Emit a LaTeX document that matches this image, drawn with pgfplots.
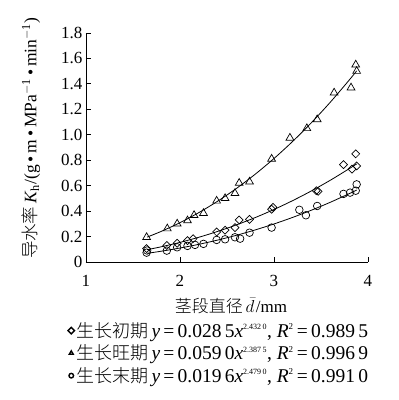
\documentclass[border=0pt]{standalone}
\usepackage{fontspec}
\setmainfont{Liberation Serif}
\newfontfamily\cjk{Noto Sans CJK SC Light}
\usepackage{pgfplots}
\pgfplotsset{compat=1.18}
\newcommand{\lt}{\fontsize{19.5}{20}\selectfont}
\begin{document}
\begin{tikzpicture}
\begin{axis}[
  scale only axis, width=282pt, height=229pt,
  xmin=1, xmax=4, ymin=0, ymax=1.8,
  axis x line*=bottom, axis y line*=left,
  axis line style={line width=0.8pt, -},
  xtick={1,2,3,4}, ytick={0,0.2,0.4,0.6,0.8,1.0,1.2,1.4,1.6,1.8},
  yticklabels={0,0.2,0.4,0.6,0.8,1.0,1.2,1.4,1.6,1.8},
  tick align=inside, major tick length=5pt, tick style={line width=0.8pt,black},
  /pgf/number format/assume math mode=true,
  tick label style={font=\fontsize{17}{19}\selectfont},
  xticklabel style={yshift=-10pt},
  clip=false,
  xlabel={{\cjk 茎段直径}\,$\bar{d}$\kern1.5pt/mm},
  xlabel style={font=\fontsize{17}{19}\selectfont, at={(axis description cs:0.514,-0.152)}, anchor=north, inner sep=1pt},
  ylabel={{\cjk 导水率}\,\textit{K}\textsubscript{h}/(g\,•\,m\,•\,MPa\textsuperscript{$-$1}\,•\,min\textsuperscript{$-$1})},
  ylabel style={font=\fontsize{17.5}{19}\selectfont, at={(axis description cs:-0.195,0.54)}, anchor=center},
  legend style={at={(axis description cs:-0.068,-0.25)}, anchor=north west, draw=none, fill=none,
    font=\fontsize{18}{20}\selectfont, row sep=2pt, legend cell align=left, inner sep=1pt,
    /tikz/every even column/.append style={column sep=2pt}},
  legend cell align=left,
  legend image code/.code={\draw[line width=1.4pt, mark size=2.3pt] plot coordinates {(0.1cm,0cm)};},
]
\path (rel axis cs:-0.305,1.144) rectangle (rel axis cs:1.110,-0.603);
% diamond data
\addplot[only marks, mark=square, line width=0.7pt, mark options={rotate=45}, mark size=2.8pt] coordinates {
(1.645,0.105)(1.86,0.13)(1.97,0.147)(2.08,0.168)(2.14,0.183)(2.39,0.236)(2.48,0.25)
(2.585,0.27)(2.63,0.33)(2.74,0.335)(2.975,0.414)(2.99,0.43)(3.45,0.56)(3.47,0.555)
(3.74,0.765)(3.83,0.73)(3.88,0.755)(3.87,0.85)};
\addlegendentry{{\cjk 生长初期}\,{\lt\textit{y}\,=\,0.028\,5\textit{x}\textsuperscript{\fontsize{8}{9}\selectfont 2.432\,0}, \textit{R}\textsuperscript{\fontsize{9}{9}\selectfont 2}\,=\,0.989\,5}}
% triangle data
\addplot[only marks, mark=triangle, line width=0.7pt, mark size=4.5pt] coordinates {
(1.645,0.194)(1.865,0.262)(1.97,0.30)(2.08,0.325)(2.15,0.367)(2.25,0.383)(2.39,0.48)
(2.48,0.50)(2.585,0.54)(2.63,0.62)(2.74,0.63)(2.975,0.81)(3.17,0.975)(3.35,1.05)
(3.46,1.12)(3.64,1.33)(3.82,1.37)(3.87,1.55)(3.88,1.50)};
\addlegendentry{{\cjk 生长旺期}\,{\lt\textit{y}\,=\,0.059\,0\textit{x}\textsuperscript{\fontsize{8}{9}\selectfont 2.387\,5}, \textit{R}\textsuperscript{\fontsize{9}{9}\selectfont 2}\,=\,0.996\,9}}
% circle data
\addplot[only marks, mark=o, line width=0.7pt, mark size=3.8pt] coordinates {
(1.645,0.073)(1.65,0.09)(1.86,0.089)(1.97,0.115)(2.08,0.126)(2.16,0.134)(2.25,0.142)
(2.39,0.173)(2.48,0.178)(2.585,0.194)(2.64,0.183)(2.74,0.23)(2.975,0.27)(3.27,0.41)
(3.34,0.367)(3.46,0.44)(3.74,0.535)(3.81,0.545)(3.88,0.61)(3.87,0.56)};
\addlegendentry{{\cjk 生长末期}\,{\lt\textit{y}\,=\,0.019\,6\textit{x}\textsuperscript{\fontsize{8}{9}\selectfont 2.479\,0}, \textit{R}\textsuperscript{\fontsize{9}{9}\selectfont 2}\,=\,0.991\,0}}
% fitted curves
\addplot[forget plot, smooth, line width=0.8pt] coordinates {
(1.65,0.1951)(1.8,0.2401)(2.0,0.3087)(2.2,0.3876)(2.4,0.4771)(2.6,0.5776)(2.8,0.6894)
(3.0,0.8129)(3.2,0.9483)(3.4,1.0960)(3.6,1.2561)(3.8,1.4292)(3.88,1.502)};
\addplot[forget plot, smooth, line width=0.8pt] coordinates {
(1.65,0.0963)(1.8,0.1190)(2.0,0.1538)(2.2,0.1939)(2.4,0.2397)(2.6,0.2911)(2.8,0.3486)
(3.0,0.4123)(3.2,0.4824)(3.4,0.5590)(3.6,0.6424)(3.8,0.7328)(3.88,0.7706)};
\addplot[forget plot, smooth, line width=0.8pt] coordinates {
(1.65,0.0678)(1.8,0.0842)(2.0,0.1093)(2.2,0.1384)(2.4,0.1717)(2.6,0.2094)(2.8,0.2516)
(3.0,0.2986)(3.2,0.3504)(3.4,0.4073)(3.6,0.4692)(3.8,0.5365)(3.88,0.5649)};
\end{axis}
\end{tikzpicture}
\end{document}
